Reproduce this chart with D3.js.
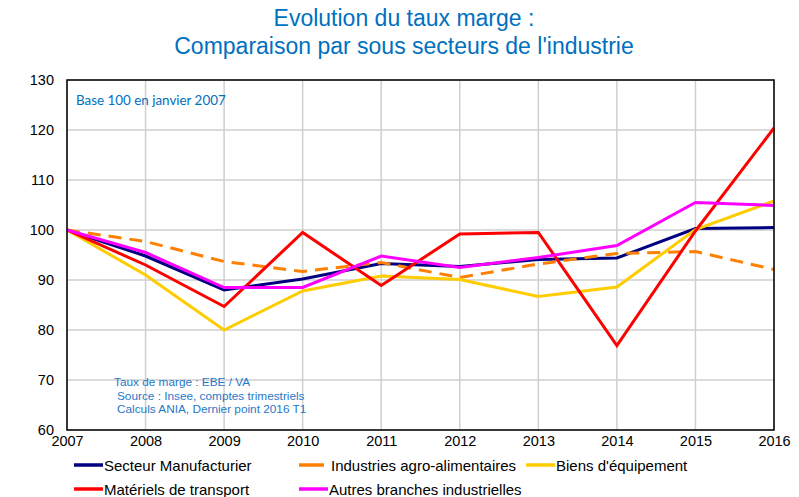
<!DOCTYPE html>
<html lang="fr">
  <head>
    <meta charset="UTF-8" />
    <title>Evolution du taux marge</title>
    <script src="https://d3js.org/d3.v7.min.js"></script>
    <style>
      body { margin: 0; background: #fff; }
      text { font-family: "Liberation Sans", Arial, sans-serif; }
    </style>
  </head>

  <body>
    <svg width="799" height="497"></svg>

    <script>
      const years = [2007, 2008, 2009, 2010, 2011, 2012, 2013, 2014, 2015, 2016];
      const yTicks = [60, 70, 80, 90, 100, 110, 120, 130];

      const manufacturier = [100, 94.8, 88.0, 90.2, 93.3, 92.7, 94.1, 94.4, 100.3, 100.5];
      const agroAlimentaires = [100, 97.7, 93.7, 91.7, 93.5, 90.5, 93.2, 95.3, 95.7, 92.1];
      const biensEquipement = [100, 91.0, 80.0, 87.8, 90.8, 90.1, 86.7, 88.6, 100.1, 105.8];
      const materielsTransport = [100, 93.0, 84.7, 99.5, 88.9, 99.2, 99.5, 76.9, 99.8, 120.4];
      const autresBranches = [100, 95.5, 88.5, 88.5, 94.8, 92.5, 94.5, 96.9, 105.5, 104.9];

      const series = [
        { name: "Secteur Manufacturier", values: manufacturier, color: "#000080", dash: null },
        { name: "Industries agro-alimentaires", values: agroAlimentaires, color: "#FF8000", dash: "13,8" },
        { name: "Biens d'équipement", values: biensEquipement, color: "#FFCC00", dash: null },
        { name: "Matériels de transport", values: materielsTransport, color: "#FF0000", dash: null },
        { name: "Autres branches industrielles", values: autresBranches, color: "#FF00FF", dash: null }
      ];

      const svg = d3.select("svg");
      const blue = "#0070C0";

      const x = d3.scaleLinear().domain([2007, 2016]).range([67, 774]);
      const y = d3.scaleLinear().domain([60, 130]).range([430, 80]);

      // titre
      svg.append("text")
        .attr("x", 404).attr("y", 26)
        .attr("text-anchor", "middle")
        .attr("font-size", 23)
        .attr("fill", blue)
        .text("Evolution du taux marge :");
      svg.append("text")
        .attr("x", 404).attr("y", 54)
        .attr("text-anchor", "middle")
        .attr("font-size", 23)
        .attr("fill", blue)
        .text("Comparaison par sous secteurs de l'industrie");

      // grille
      const grid = svg.append("g");
      grid.selectAll("line.h")
        .data(yTicks)
        .enter()
        .append("line")
        .attr("x1", x(2007)).attr("x2", x(2016))
        .attr("y1", d => y(d)).attr("y2", d => y(d))
        .attr("stroke", "#cfcfcf")
        .attr("stroke-width", 1.5);
      grid.selectAll("line.v")
        .data(years)
        .enter()
        .append("line")
        .attr("x1", d => x(d)).attr("x2", d => x(d))
        .attr("y1", y(130)).attr("y2", y(60))
        .attr("stroke", "#cfcfcf")
        .attr("stroke-width", 1.5);

      // axes
      const yAxis = svg.append("g")
        .attr("transform", "translate(" + x(2007) + ",0)")
        .call(d3.axisLeft(y).tickValues(yTicks).tickSize(0).tickPadding(13));
      const xAxis = svg.append("g")
        .attr("transform", "translate(0," + y(60) + ")")
        .call(d3.axisBottom(x).tickValues(years).tickFormat(d3.format("d")).tickSize(0).tickPadding(6));
      [xAxis, yAxis].forEach(a => {
        a.select(".domain").remove();
        a.selectAll("text")
          .attr("font-size", 14.5)
          .attr("fill", "#000")
          .style("font-family", "'Liberation Sans', Arial, sans-serif");
      });

      // courbes
      const line = d3.line()
        .x((d, i) => x(years[i]))
        .y(d => y(d));

      svg.append("g")
        .selectAll("path")
        .data(series)
        .enter()
        .append("path")
        .attr("d", d => line(d.values))
        .attr("fill", "none")
        .attr("stroke", d => d.color)
        .attr("stroke-width", 3)
        .attr("stroke-linejoin", "miter")
        .attr("stroke-dasharray", d => d.dash);

      // cadre
      svg.append("rect")
        .attr("x", x(2007)).attr("y", y(130))
        .attr("width", x(2016) - x(2007))
        .attr("height", y(60) - y(130))
        .attr("fill", "none")
        .attr("stroke", "#000")
        .attr("stroke-width", 1.5);

      // annotations
      svg.append("text")
        .attr("x", 76).attr("y", 105)
        .attr("font-size", 13.4)
        .attr("fill", blue)
        .style("font-family", "Lato, 'Open Sans', sans-serif")
        .text("Base 100 en janvier 2007");

      const notes = [
        { t: "Taux de marge : EBE / VA", dx: 114 },
        { t: "Source : Insee, comptes trimestriels", dx: 117 },
        { t: "Calculs ANIA, Dernier point 2016 T1", dx: 117 }
      ];
      svg.append("g")
        .selectAll("text")
        .data(notes)
        .enter()
        .append("text")
        .attr("x", d => d.dx)
        .attr("y", (d, i) => 386 + i * 13.5)
        .attr("font-size", 11.8)
        .attr("fill", "#1F78C8")
        .text(d => d.t);

      // légende
      const legendPos = [
        [74, 465], [299, 465], [526, 465],
        [74, 489], [299, 489]
      ];
      const legend = svg.append("g")
        .selectAll("g")
        .data(series)
        .enter()
        .append("g")
        .attr("transform", (d, i) => "translate(" + legendPos[i][0] + "," + legendPos[i][1] + ")");
      legend.append("line")
        .attr("x1", 0).attr("x2", d => (d.name.startsWith("Industries") ? 25 : 29))
        .attr("y1", 0).attr("y2", 0)
        .attr("stroke", d => d.color)
        .attr("stroke-width", 3.5);
      legend.append("text")
        .attr("x", d => (d.name.startsWith("Industries") ? 32 : 30))
        .attr("y", 5.5)
        .attr("font-size", 15)
        .attr("fill", "#000")
        .text(d => d.name);
    </script>
  </body>
</html>
